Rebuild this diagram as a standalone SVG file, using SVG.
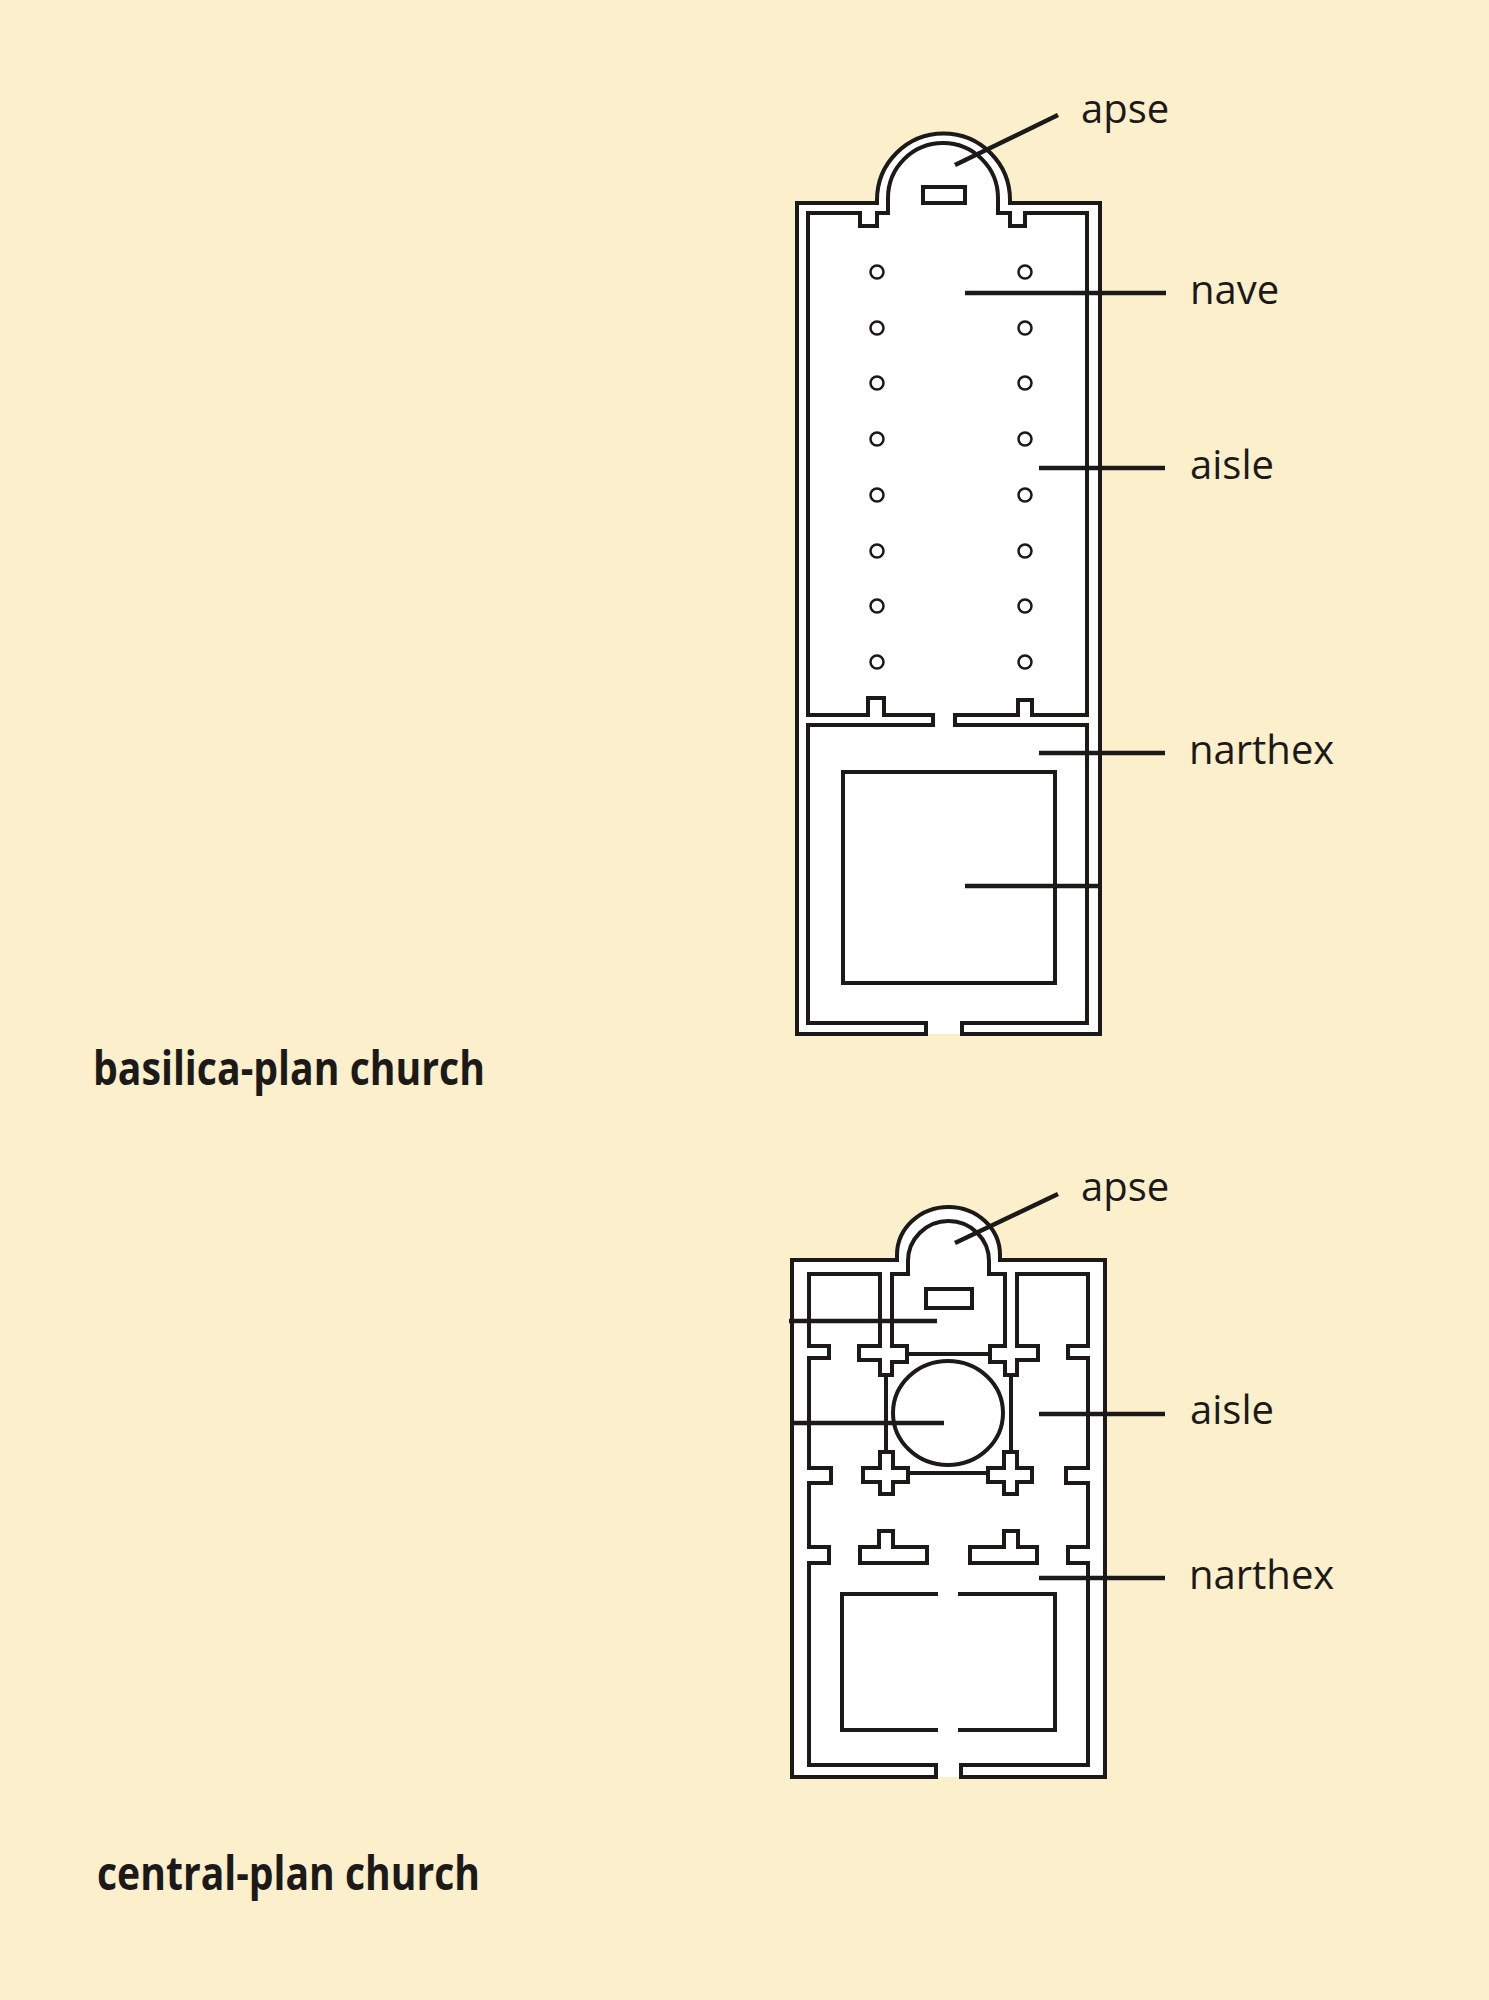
<svg xmlns="http://www.w3.org/2000/svg" width="1489" height="2000" viewBox="0 0 1489 2000">
<style>
.bg{fill:#FCEFCC}
.fillw{fill:#ffffff;stroke:none}
.wall{fill:none;stroke:#1c1a19;stroke-width:4;stroke-linejoin:miter}
.thin{fill:none;stroke:#1c1a19;stroke-width:4}
.col{fill:#ffffff;stroke:#1c1a19;stroke-width:2.5}
.lead{stroke:#1c1a19;stroke-width:4.5;fill:none}
.lbl{font-family:"Open Sans","Noto Sans",sans-serif;font-size:40px;fill:#1c1a19}
.ttl{font-family:"Open Sans","Noto Sans",sans-serif;font-size:46px;font-weight:700;fill:#1c1a19}
</style>
<rect class="bg" x="0" y="0" width="1489" height="2000"/>
<g id="basilica-plan">
<path class="fillw" d="M797,203 H877 V200 A66.5,66.5 0 0 1 1010,200 V203 H1100 V1034 H797 Z"/>
<path class="wall" d="M926,1023 H808 V725 H933 V715 H884 V698 H868 V715 H808 V213 H860 V226 H877 V213 H888 V198 A55,55 0 0 1 998,198 V213 H1010 V226 H1025 V213 H1087 V715 H1032 V700 H1018 V715 H955 V725 H1087 V1023 H962 V1034 H1100 V203 H1010 V200 A66.5,66.5 0 0 0 877,200 V203 H797 V1034 H926 Z"/>
<rect class="thin" x="923" y="187" width="42" height="16"/>
<rect class="thin" x="843" y="772" width="212" height="211"/>
<g id="columns">
<circle class="col" cx="877" cy="272" r="6.5"/><circle class="col" cx="1025" cy="272" r="6.5"/>
<circle class="col" cx="877" cy="328" r="6.5"/><circle class="col" cx="1025" cy="328" r="6.5"/>
<circle class="col" cx="877" cy="383" r="6.5"/><circle class="col" cx="1025" cy="383" r="6.5"/>
<circle class="col" cx="877" cy="439" r="6.5"/><circle class="col" cx="1025" cy="439" r="6.5"/>
<circle class="col" cx="877" cy="495" r="6.5"/><circle class="col" cx="1025" cy="495" r="6.5"/>
<circle class="col" cx="877" cy="551" r="6.5"/><circle class="col" cx="1025" cy="551" r="6.5"/>
<circle class="col" cx="877" cy="606" r="6.5"/><circle class="col" cx="1025" cy="606" r="6.5"/>
<circle class="col" cx="877" cy="662" r="6.5"/><circle class="col" cx="1025" cy="662" r="6.5"/>
</g>
</g>
<g id="central-plan">
<path class="fillw" d="M792,1260 H897 V1255 A51.5,48 0 0 1 1000,1255 V1260 H1105 V1777 H792 Z"/>
<path class="wall" d="M936,1765 H809 V1563 H829 V1547 H809 V1483 H831 V1468 H809 V1358 H829 V1346 H809 V1274 H880 V1346 H859 V1360 H880 V1375 H892 V1362 H907 V1346 H892 V1274 H908 V1261 A40.5,40 0 0 1 989,1261 V1274 H1005 V1346 H990 V1362 H1005 V1375 H1017 V1360 H1038 V1346 H1017 V1274 H1088 V1346 H1068 V1358 H1088 V1468 H1066 V1483 H1088 V1547 H1068 V1563 H1088 V1765 H961 V1777 H1105 V1260 H1000 V1255 A51.5,48 0 0 0 897,1255 V1260 H792 V1777 H936 Z"/>
<rect class="thin" x="926" y="1289" width="46" height="19"/>
<path class="wall" d="M880,1452 H893 V1468 H908 V1482 H893 V1494 H880 V1482 H863 V1468 H880 Z"/>
<path class="wall" d="M1004,1452 H1017 V1468 H1032 V1482 H1017 V1494 H1004 V1482 H988 V1468 H1004 Z"/>
<path class="thin" d="M886,1375 V1452 M1011,1375 V1452 M907,1354 H990 M908,1473 H988"/>
<ellipse class="thin" cx="948" cy="1413" rx="55" ry="52"/>
<path class="wall" d="M860,1547 H879 V1531 H893 V1547 H927 V1563 H860 Z"/>
<path class="wall" d="M970,1547 H1004 V1531 H1018 V1547 H1037 V1563 H970 Z"/>
<path class="thin" d="M938,1594 H842 V1730 H938 M958,1594 H1055 V1730 H958"/>
</g>
<g id="connectors">
<line class="lead" x1="955" y1="165" x2="1058" y2="115"/>
<line class="lead" x1="965" y1="293" x2="1166" y2="293"/>
<line class="lead" x1="1039" y1="468" x2="1165" y2="468"/>
<line class="lead" x1="1039" y1="753" x2="1165" y2="753"/>
<line class="lead" x1="965" y1="886" x2="1100" y2="886"/>
<line class="lead" x1="955" y1="1243" x2="1058" y2="1194"/>
<line class="lead" x1="789" y1="1321" x2="937" y2="1321"/>
<line class="lead" x1="793" y1="1423" x2="944" y2="1423"/>
<line class="lead" x1="1039" y1="1414" x2="1165" y2="1414"/>
<line class="lead" x1="1039" y1="1578" x2="1165" y2="1578"/>
</g>
<g id="labels">
<text class="lbl" x="1081" y="123">apse</text>
<text class="lbl" x="1190" y="304">nave</text>
<text class="lbl" x="1190" y="479">aisle</text>
<text class="lbl" x="1189" y="764">narthex</text>
<text class="lbl" x="1081" y="1201">apse</text>
<text class="lbl" x="1190" y="1424">aisle</text>
<text class="lbl" x="1189" y="1589">narthex</text>
<text class="ttl" x="93" y="1085" textLength="392" lengthAdjust="spacingAndGlyphs">basilica-plan church</text>
<text class="ttl" x="97" y="1890" textLength="383" lengthAdjust="spacingAndGlyphs">central-plan church</text>
</g>
</svg>
